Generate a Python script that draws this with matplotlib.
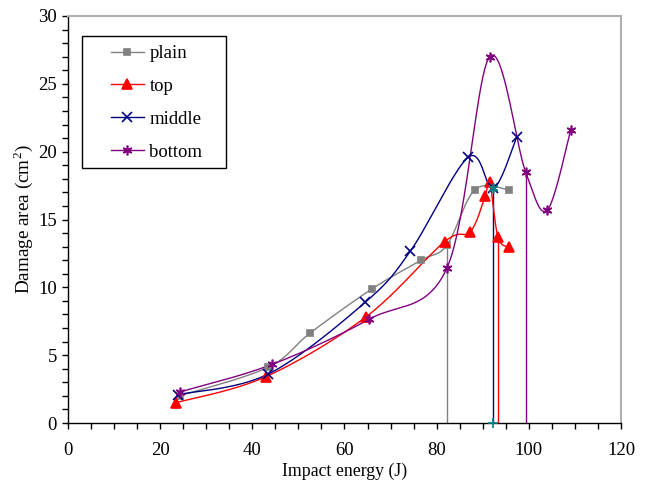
import numpy as np
import matplotlib
matplotlib.use("Agg")
import matplotlib.pyplot as plt
from matplotlib.ticker import MultipleLocator
from matplotlib.patches import Rectangle

plt.rcParams['font.family'] = ['Liberation Serif', 'DejaVu Serif']
plt.rcParams['mathtext.fontset'] = 'custom'
plt.rcParams['mathtext.rm'] = 'Liberation Serif'

# data
plain_x = [24.3, 43.4, 52.6, 65.9, 76.6, 82.2, 88.3, 95.6]
plain_y = [2.0, 4.1, 6.65, 9.87, 12.0, 13.1, 17.2, 17.2]

top_x = [23.5, 42.9, 64.7, 81.7, 87.3, 90.5, 91.5, 93.3, 95.7]
top_y = [1.5, 3.41, 7.83, 13.36, 14.1, 16.7, 17.8, 13.7, 12.95]

middle_x = [23.8, 43.4, 64.5, 74.3, 86.9, 92.3, 97.4]
middle_y = [2.09, 3.6, 8.9, 12.67, 19.6, 17.3, 21.1]

bottom_x = [24.4, 44.3, 65.4, 82.2, 91.5, 99.3, 104.0, 109.1]
bottom_y = [2.3, 4.32, 7.66, 11.4, 27.0, 18.5, 15.7, 21.6]

drop_x = [82.2, 92.3, 93.3, 99.3]
drop_y = [13.1, 17.3, 13.7, 18.5]
drop_colors = ['#808080', '#000080', '#ff0000', '#800080']

mark_x = 92.3
mark_y = 17.3


def smooth(x, y, n=40):
    # catmull-rom through the points, like excel's smoothed line
    p = np.column_stack([x, y]).astype(float)
    p = np.vstack([p[0], p, p[-1]])
    out = []
    t = np.linspace(0, 1, n)[:, None]
    for i in range(1, len(p) - 2):
        p0, p1, p2, p3 = p[i - 1], p[i], p[i + 1], p[i + 2]
        b1 = p1 + (p2 - p0) / 6
        b2 = p2 - (p3 - p1) / 6
        seg = ((1 - t) ** 3) * p1 + 3 * ((1 - t) ** 2) * t * b1 + 3 * (1 - t) * t ** 2 * b2 + t ** 3 * p2
        out.append(seg)
    s = np.vstack(out)
    return s[:, 0], s[:, 1]


W, H = 645, 482
fig = plt.figure(figsize=(W / 100, H / 100), dpi=100)
ax = fig.add_axes([68 / W, 1 - 423 / H, (621 - 68) / W, (423 - 16) / H])

series = [
    ('plain', plain_x, plain_y, '#808080', 's', 5),
    ('top', top_x, top_y, '#ff0000', '^', 6.5),
    ('middle', middle_x, middle_y, '#000080', 'x', 6.5),
    ('bottom', bottom_x, bottom_y, '#800080', (6, 2, 0), 7),
]

for dx, dy, c in zip(drop_x, drop_y, drop_colors):
    ax.plot([dx, dx], [0, dy], color=c, lw=1.0, zorder=2)

for name, xs, ys, c, m, ms in series:
    sx, sy = smooth(xs, ys)
    ax.plot(sx, sy, color=c, lw=1.0, zorder=3)
    ax.plot(xs, ys, ls='none', marker=m, color=c, ms=ms, mew=1.2, zorder=4)
    ax.plot([], [], color=c, lw=1.0, marker=m, ms=ms, mew=1.2, label=name)

ax.plot([mark_x], [0], ls='none', marker='+', color='#008080', ms=7, mew=1.2, zorder=5, clip_on=False)
ax.plot([mark_x], [mark_y], ls='none', marker=(6, 2, 0), color='#008080', ms=7, mew=1.2, zorder=5)

ax.set_xlim(0, 120)
ax.set_ylim(0, 30)
ax.xaxis.set_major_locator(MultipleLocator(20))
ax.xaxis.set_minor_locator(MultipleLocator(5))
ax.yaxis.set_major_locator(MultipleLocator(5))
ax.yaxis.set_minor_locator(MultipleLocator(1))
ax.tick_params(which='both', direction='out', length=4, width=1, labelsize=13.5, color='black')
ax.tick_params(axis='x', which='major', pad=10)
ax.tick_params(axis='y', which='major', pad=4)

for s in ['top', 'right']:
    ax.spines[s].set_color('#b0b0b0')
    ax.spines[s].set_linewidth(1.5)
for s in ['left', 'bottom']:
    ax.spines[s].set_linewidth(1.0)

ax.set_xlabel('Impact energy (J)', fontsize=12.8, labelpad=2)
ax.set_ylabel('Damage area (cm$^{2}$)', fontsize=13.8, labelpad=2)

leg = ax.legend(loc='upper left', bbox_to_anchor=((111 - 68) / 553, (423 - 45) / 407), fontsize=13.5,
                frameon=False, labelspacing=0.84, handlelength=1.75, borderpad=0,
                handletextpad=0.3, borderaxespad=0)

# legend box drawn by hand so the left padding matches
fig.patches.append(Rectangle((82 / W, 1 - 168 / H), (226 - 82) / W, (168 - 36) / H,
                             transform=fig.transFigure, fill=True, facecolor='white',
                             edgecolor='black', lw=1.0, zorder=0))
ax.set_zorder(1)
ax.patch.set_alpha(0)
leg.set_zorder(10)

fig.savefig('out.png', dpi=100)
